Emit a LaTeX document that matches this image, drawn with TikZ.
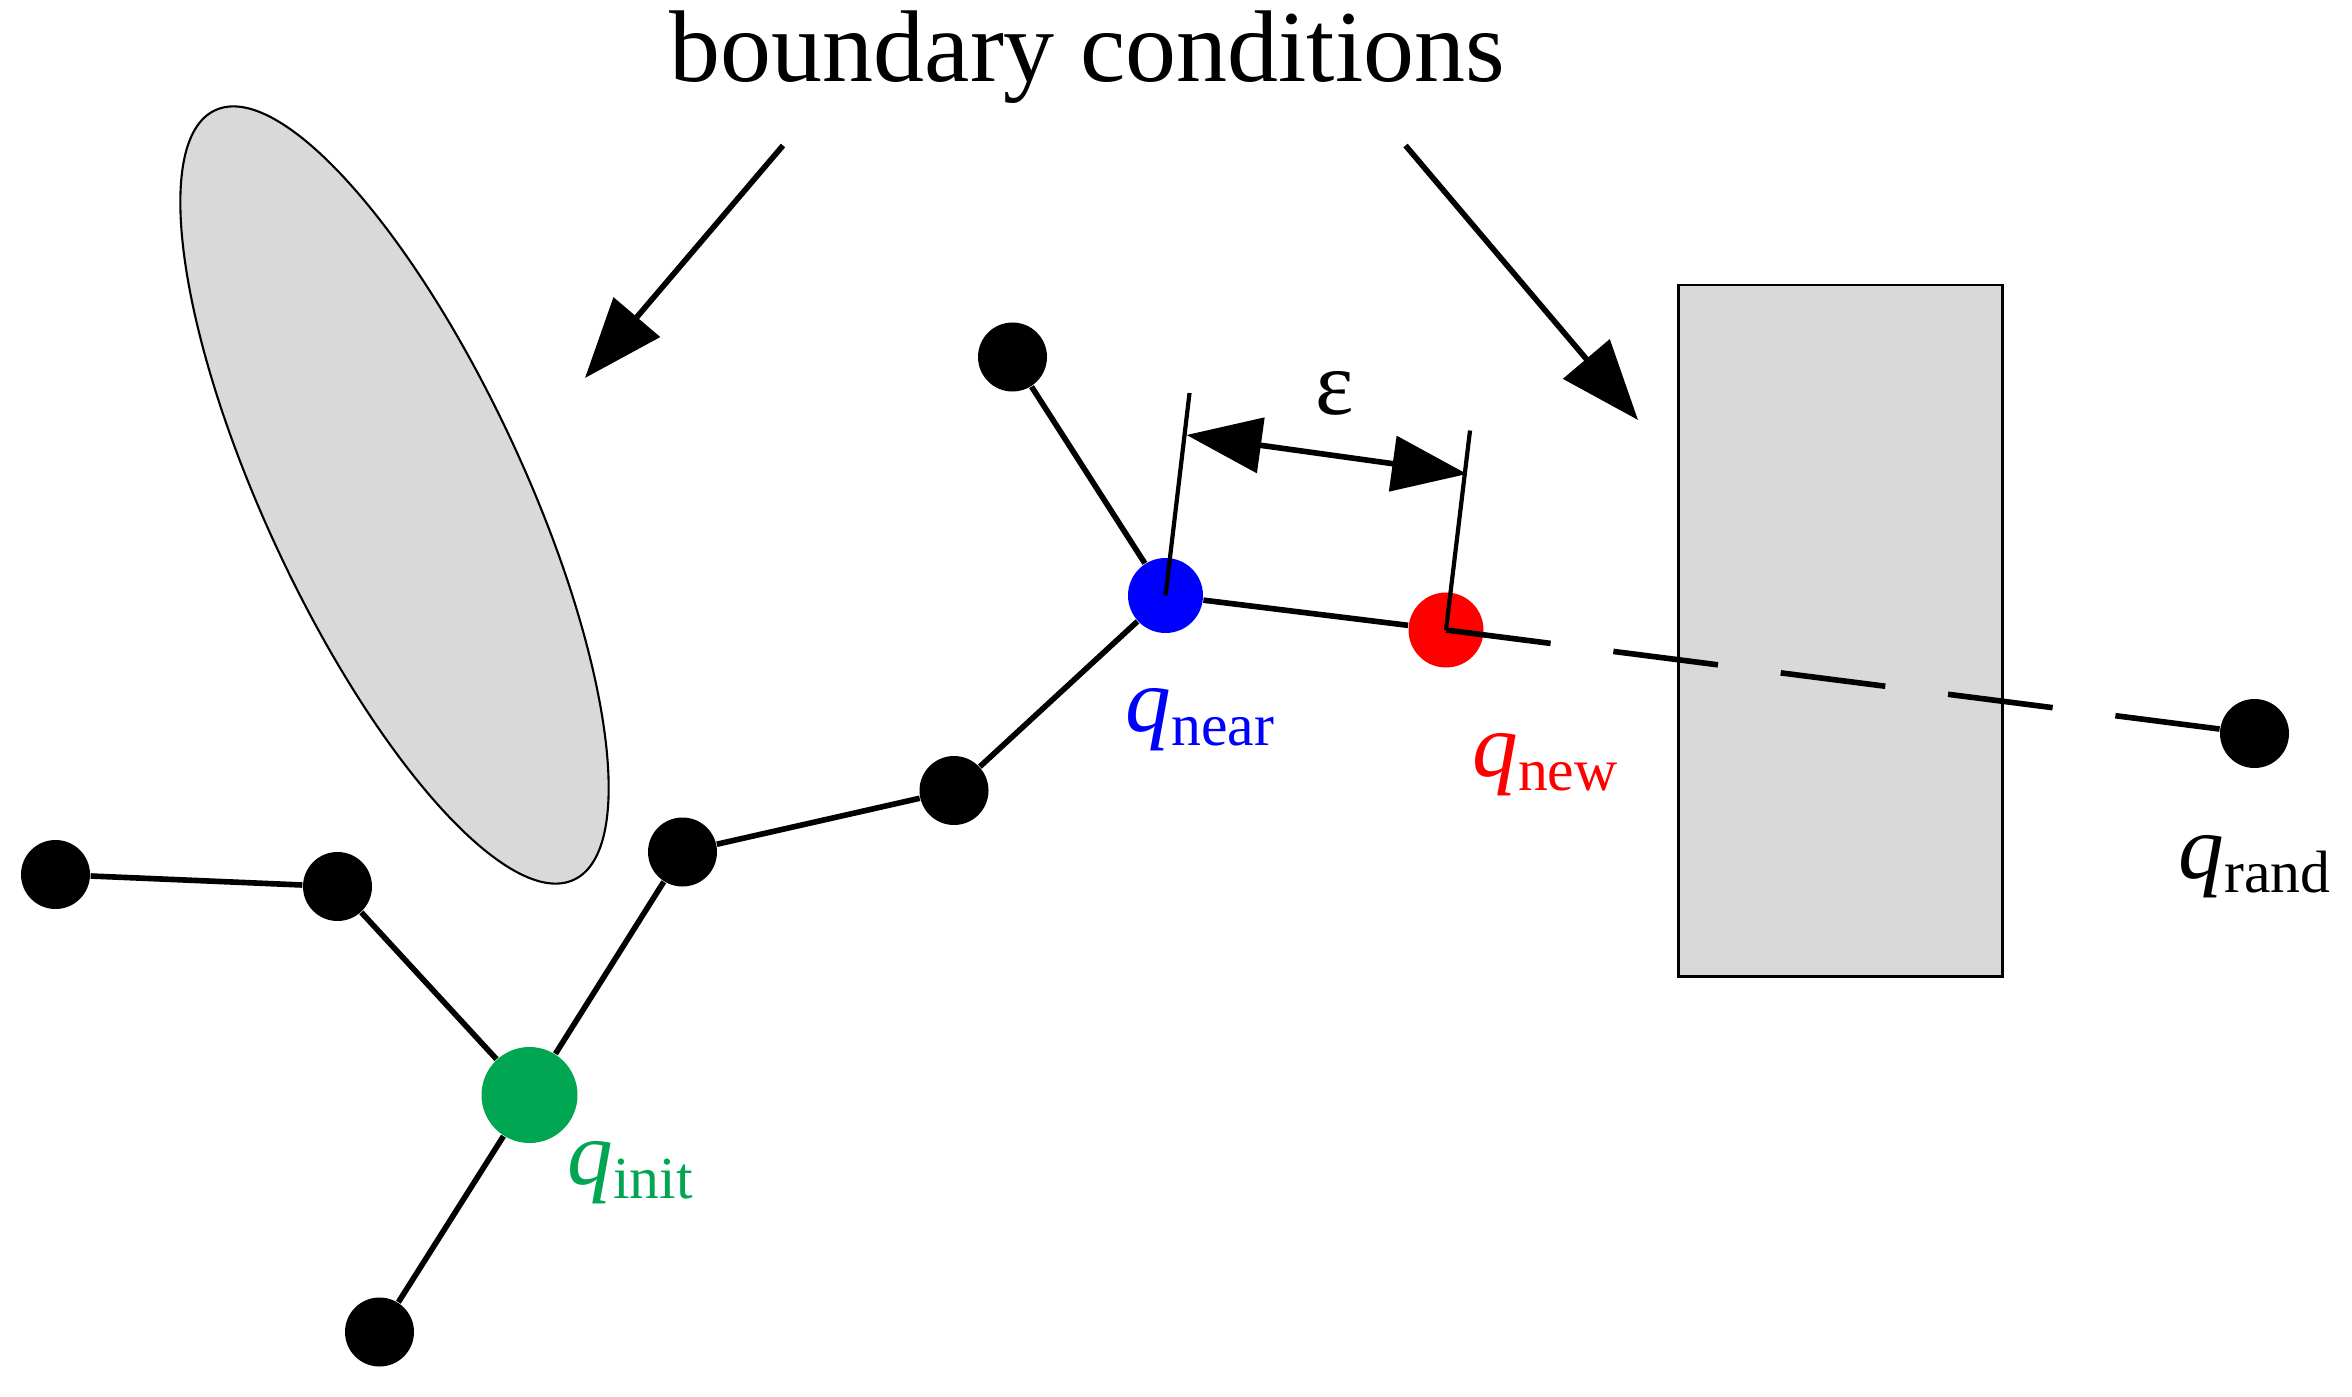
\documentclass[tikz,border=0pt]{standalone}
\usepackage{fontspec}
\setmainfont{Liberation Serif}
\usetikzlibrary{arrows.meta}
\definecolor{obst}{RGB}{217, 217, 217}
\definecolor{initgreen}{RGB}{0, 166, 81}
\definecolor{nearblue}{RGB}{0, 0, 255}
\definecolor{newred}{RGB}{255, 0, 0}
\newcommand{\qsub}[1]{$\mathit{q}$\raisebox{-0.15em}{\fontsize{17}{20}\selectfont #1}}
\tikzset{
    vertex/.style={circle, fill=black, inner sep=0pt, minimum size=0.69cm},
    edge/.style={line width=1.6pt},
    label/.style={font=\fontsize{26}{30}\selectfont, inner sep=0pt},
    bigarrow/.style={line width=1.6pt, -{Triangle[length=0.8cm, width=0.6cm]}}
}
\begin{document}
\begin{tikzpicture}[x=0.015cm, y=-0.015cm]
    \useasboundingbox (0,0) rectangle (1568,931);

    % obstacles
    \draw[fill=obst, line width=0.6pt, rotate around={-65:(263,330)}] (263,330) ellipse [x radius=283, y radius=86];
    \draw[fill=obst, line width=0.6pt] (1119,190) rectangle (1335,651);

    % tree vertices
    \node[vertex] (top) at (675,238) {};
    \node[vertex] (left) at (37,583) {};
    \node[vertex] (a) at (225,591) {};
    \node[vertex] (b) at (455,568) {};
    \node[vertex] (c) at (636,527) {};
    \node[vertex] (bottom) at (253,888) {};
    \node[vertex] (rand) at (1503,489) {};
    \node[circle, fill=initgreen, inner sep=0pt, minimum size=0.96cm] (init) at (353,730) {};
    \node[circle, fill=nearblue, inner sep=0pt, minimum size=0.75cm] (near) at (777,397) {};
    \node[circle, fill=newred, inner sep=0pt, minimum size=0.75cm] (new) at (964,420) {};

    % edges
    \draw[edge] (left) -- (a);
    \draw[edge] (a) -- (init);
    \draw[edge] (init) -- (b);
    \draw[edge] (b) -- (c);
    \draw[edge] (c) -- (near);
    \draw[edge] (top) -- (near);
    \draw[edge] (init) -- (bottom);
    \draw[edge] (near) -- (new);
    \draw[edge, dash pattern=on 30pt off 18pt] (new.center) -- (rand);

    % epsilon step
    \coordinate (e1) at (793,262);
    \coordinate (e2) at (980,287);
    \coordinate (d1) at (791,290);
    \coordinate (d2) at (978,316);
    \draw[line width=1.2pt] (near.center) -- (e1);
    \draw[line width=1.2pt] (new.center) -- (e2);
    \draw[line width=1.6pt, {Triangle[length=0.75cm, width=0.55cm]}-{Triangle[length=0.75cm, width=0.55cm]}] (d1) -- (d2);
    \node[label] (eps) at (890,262) {ε};

    % labels
    \node[font=\fontsize{29}{34}\selectfont] (title) at (725,38) {boundary conditions};
    \coordinate (t1) at (522,97);
    \coordinate (t2) at (937,97);
    \coordinate (h1) at (390,252);
    \coordinate (h2) at (1092,280);
    \draw[bigarrow] (t1) -- (h1);
    \draw[bigarrow] (t2) -- (h2);

    \node[label, text=nearblue] (lnear) at (800,480) {\qsub{near}};
    \node[label, text=newred] (lnew) at (1030,510) {\qsub{new}};
    \node[label, text=initgreen] (linit) at (420,782) {\qsub{init}};
    \node[label] (lrand) at (1503,578) {\qsub{rand}};
\end{tikzpicture}
\end{document}
